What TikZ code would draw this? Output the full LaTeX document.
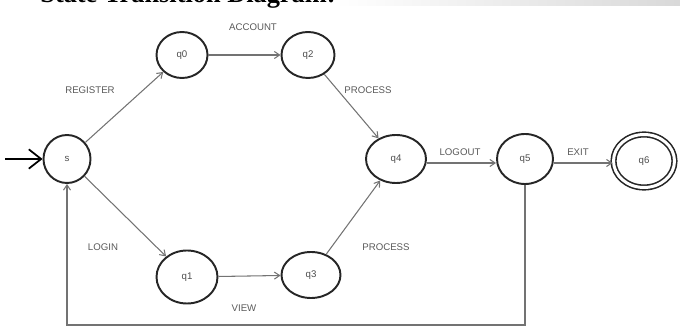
\documentclass[tikz,border=0pt]{standalone}
\usepackage{fontspec}
\setmainfont{Liberation Serif}
\newfontfamily\labelfont{Liberation Sans}
\usetikzlibrary{shapes.geometric}
\usetikzlibrary{arrows.meta}
\newcommand{\state}[6] % name, x in px, y in px, width in px, height in px, label
{
	% draw state
	\node[statebox, minimum width=#4*0.02cm, minimum height=#5*0.02cm] (#1) at (#2,#3) {#6};
}

\begin{document}
\begin{tikzpicture}[x=0.02cm, y=-0.02cm,
	statebox/.style={ellipse, draw=black!85, line width=1.1pt, inner sep=0pt, font=\labelfont\fontsize{5.5}{6}\selectfont, text=black!70},
	edge/.style={draw=black!55, line width=0.6pt, -{Straight Barb[length=3pt,width=4pt]}},
	lbl/.style={font=\labelfont\fontsize{5.5}{6}\selectfont, text=black!65, inner sep=0pt}]
	% 680px x 327px, 1px = 0.02cm
	\useasboundingbox (0,0) rectangle (680,327);
	% washed out header
	\fill[left color=white, right color=black!15] (335,0) rectangle (680,6);
	\node[anchor=base west, inner sep=0pt, font=\bfseries\fontsize{15}{18}\selectfont] (title) at (40,3) {State Transition Diagram:};
	
	% states
	\state{s}{67}{159}{47}{48}{s};
	\state{q0}{182}{55}{51}{46}{q0};
	\state{q2}{308}{55}{53}{46}{q2};
	\state{q1}{187}{277}{61}{53}{q1};
	\state{q3}{311}{275}{59}{46}{q3};
	\state{q4}{396}{159}{60}{48}{q4};
	\state{q5}{525}{159}{56}{50}{q5};
	\node[statebox, double, line width=0.9pt, double distance=0.06cm, minimum width=61*0.02cm, minimum height=53*0.02cm] (q6) at (644,161) {q6};
	
	% start
	\coordinate (start) at (5,159);
	\draw[line width=1pt, -{Straight Barb[length=7pt,width=11pt]}] (start) -- (s);
	
	% transitions
	\draw[edge] (s) -- (q0);
	\draw[edge] (q0) -- (q2);
	\draw[edge] (q2) -- (q4);
	\draw[edge] (s) -- (q1);
	\draw[edge] (q1) -- (q3);
	\draw[edge] (q3) -- (q4);
	\draw[edge] (q4.east |- 0,163) -- (q5.west |- 0,163);
	\draw[edge] (q5.east |- 0,163) -- (q6.west |- 0,163);
	% back to s
	\coordinate (back) at (0,325);
	\draw[edge] (q5) -- (q5 |- back) -| (s);
	
	% labels
	\node[lbl] (register) at (90,90) {REGISTER};
	\node[lbl] (account) at (253,27) {ACCOUNT};
	\node[lbl] (process1) at (368,90) {PROCESS};
	\node[lbl] (login) at (103,247) {LOGIN};
	\node[lbl] (view) at (244,308) {VIEW};
	\node[lbl] (process2) at (386,247) {PROCESS};
	\node[lbl] (logout) at (460,152) {LOGOUT};
	\node[lbl] (exit) at (578,152) {EXIT};
	
\end{tikzpicture}
\end{document}
